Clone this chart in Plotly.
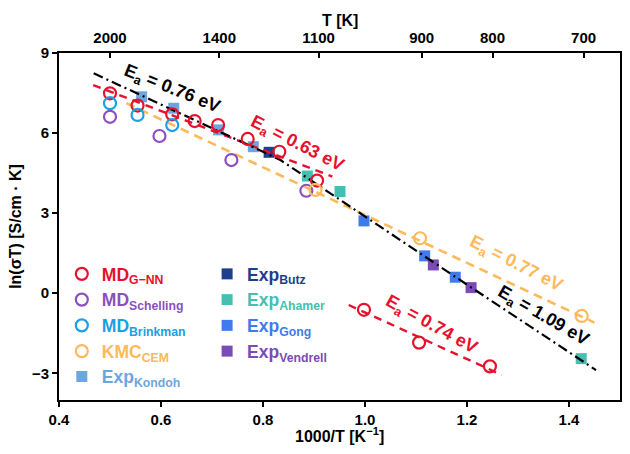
import plotly.graph_objects as go

# ---------------- data ----------------
gnn_x = [0.500, 0.554, 0.622, 0.666, 0.712, 0.770, 0.832, 0.906, 0.998, 1.106, 1.245]
gnn_y = [7.49, 7.03, 6.70, 6.45, 6.30, 5.78, 5.30, 4.22, -0.62, -1.85, -2.74]

schelling_x = [0.500, 0.597, 0.738, 0.885]
schelling_y = [6.61, 5.89, 4.99, 3.84]

brinkman_x = [0.500, 0.554, 0.622]
brinkman_y = [7.12, 6.68, 6.30]

kmc_x = [0.903, 1.108, 1.425]
kmc_y = [3.87, 2.06, -0.85]

kondoh_x = [0.562, 0.625, 0.713, 0.781]
kondoh_y = [7.36, 6.93, 6.12, 5.49]

butz_x = [0.812]
butz_y = [5.28]

ahamer_x = [0.887, 0.951, 1.424]
ahamer_y = [4.39, 3.81, -2.45]

gong_x = [0.998, 1.117, 1.177]
gong_y = [2.71, 1.40, 0.60]

vendrell_x = [1.134, 1.208]
vendrell_y = [1.06, 0.21]

# fitted lines
fit_gnn_hi_x = [0.467, 0.936]
fit_gnn_hi_y = [7.80, 4.37]
fit_gnn_lo_x = [0.968, 1.268]
fit_gnn_lo_y = [-0.44, -3.06]
fit_kmc_x = [0.532, 1.450]
fit_kmc_y = [7.12, -1.10]
fit_exp_x = [0.468, 0.600, 0.714, 0.800, 0.835, 0.900, 1.000, 1.100, 1.208, 1.326, 1.423, 1.453]
fit_exp_y = [8.24, 7.08, 6.06, 5.30, 4.98, 4.15, 2.85, 1.58, 0.22, -1.27, -2.50, -2.88]

top_T = [2000, 1400, 1100, 900, 800, 700]
top_pos = [1000.0 / t for t in top_T]
top_text = [str(t) for t in top_T]

# ---------------- colors ----------------
C_GNN = "#E8112D"
C_SCH = "#8B4FC0"
C_BRI = "#1AA0E3"
C_KMC = "#FDB95A"
C_KON = "#6CA6E0"
C_BUT = "#1E3F8C"
C_AHA = "#45BFB1"
C_GON = "#3F7BEE"
C_VEN = "#7B4BB8"

FONT = "Liberation Sans, Arial, sans-serif"

def lab(main, sub, color):
    return f'<span style="color:{color}"><b>{main}<sub>{sub}</sub></b></span>'

fig = go.Figure()

def squares(x, y, color, name, legend, rank):
    fig.add_trace(go.Scatter(x=x, y=y, mode="markers", name=lab("Exp", name, color),
                             marker=dict(symbol="square", size=11, color=color, line=dict(width=0)),
                             legend=legend, legendrank=rank, hoverinfo="skip"))

def circles(x, y, color, main, sub, rank):
    fig.add_trace(go.Scatter(x=x, y=y, mode="markers", name=lab(main, sub, color),
                             marker=dict(symbol="circle-open", size=12, color=color,
                                         line=dict(width=2.2, color=color)),
                             legend="legend", legendrank=rank, hoverinfo="skip"))

squares(kondoh_x, kondoh_y, C_KON, "Kondoh", "legend3", 1)
squares(butz_x, butz_y, C_BUT, "Butz", "legend2", 1)
squares(ahamer_x, ahamer_y, C_AHA, "Ahamer", "legend2", 2)
squares(gong_x, gong_y, C_GON, "Gong", "legend2", 3)
squares(vendrell_x, vendrell_y, C_VEN, "Vendrell", "legend2", 4)

def line(x, y, color, dash, width=2.2):
    fig.add_trace(go.Scatter(x=x, y=y, mode="lines", showlegend=False, hoverinfo="skip",
                             line=dict(color=color, dash=dash, width=width)))

line(fit_kmc_x, fit_kmc_y, C_KMC, "9px,6px", 2.6)
line(fit_gnn_hi_x, fit_gnn_hi_y, C_GNN, "8px,6px", 2.4)
line(fit_gnn_lo_x, fit_gnn_lo_y, C_GNN, "8px,6px", 2.4)
line(fit_exp_x, fit_exp_y, "black", "10px,4px,2px,4px", 2.2)

circles(gnn_x, gnn_y, C_GNN, "MD", "G−NN", 1)
circles(schelling_x, schelling_y, C_SCH, "MD", "Schelling", 2)
circles(brinkman_x, brinkman_y, C_BRI, "MD", "Brinkman", 3)
circles(kmc_x, kmc_y, C_KMC, "KMC", "CEM", 4)

# invisible trace carrying the top (temperature) axis
fig.add_trace(go.Scatter(x=top_pos, y=[None] * len(top_pos), xaxis="x2", mode="markers",
                         marker=dict(opacity=0), showlegend=False, hoverinfo="skip"))

# activation energy labels
ann = [
    (0.621, 7.63, "0.76", "black", 22),
    (0.867, 5.57, "0.63", C_GNN, 27),
    (1.296, 1.08, "0.77", C_KMC, 27),
    (1.349, -0.88, "1.09", "black", 30),
    (1.130, -1.22, "0.74", C_GNN, 29),
]
for x, y, v, c, a in ann:
    fig.add_annotation(x=x, y=y, xref="x", yref="y", text=f"E<sub>a</sub> = {v} eV",
                       showarrow=False, textangle=a, xanchor="center", yanchor="middle",
                       font=dict(family=FONT, size=18, color=c, weight="bold"))

axfont = dict(family=FONT, size=15, color="black", weight="bold")
titfont = dict(family=FONT, size=16, color="black", weight="bold")

# axis titles
fig.add_annotation(x=0.5, y=-0.101, xref="paper", yref="paper", text="1000/T [K<sup>−1</sup>]",
                   showarrow=False, xanchor="center", yanchor="middle", font=titfont)
fig.add_annotation(x=0.5, y=1.093, xref="paper", yref="paper", text="T [K]",
                   showarrow=False, xanchor="center", yanchor="middle", font=titfont)

leg_common = dict(xanchor="left", yanchor="top", bgcolor="rgba(0,0,0,0)",
                  font=dict(family=FONT, size=17.5), itemsizing="trace", traceorder="normal")

fig.update_layout(
    width=630, height=454,
    margin=dict(l=59, r=8, t=53, b=54),
    paper_bgcolor="white", plot_bgcolor="white",
    font=dict(family=FONT, weight="bold"),
    xaxis=dict(range=[0.4, 1.5], tickvals=[0.4, 0.6, 0.8, 1.0, 1.2, 1.4],
               ticktext=["0.4", "0.6", "0.8", "1.0", "1.2", "1.4"],
               showgrid=False, zeroline=False, showline=True, linecolor="black", linewidth=2,
               mirror=True, ticks="outside", ticklen=5, tickwidth=2, tickcolor="black",
               tickfont=axfont),
    xaxis2=dict(range=[0.4, 1.5], overlaying="x", side="top", tickvals=top_pos, ticktext=top_text,
                showgrid=False, zeroline=False, showline=False,
                ticks="inside", ticklen=5, tickwidth=2, tickcolor="black", tickfont=axfont,
                ticklabelstandoff=6),
    yaxis=dict(range=[-4, 9], tickvals=[-3, 0, 3, 6, 9], ticktext=["−3", "0", "3", "6", "9"],
               showgrid=False, zeroline=False, showline=True, linecolor="black", linewidth=2,
               mirror=True, ticks="outside", ticklen=5, tickwidth=2, tickcolor="black",
               tickfont=axfont,
               title=dict(text="ln(σT) [S/cm · K]", font=titfont, standoff=6)),
    legend=dict(x=0.005, y=0.415, **leg_common),
    legend2=dict(x=0.264, y=0.415, **leg_common),
    legend3=dict(x=0.005, y=0.119, **leg_common),
)

fig.write_html("out.html")
